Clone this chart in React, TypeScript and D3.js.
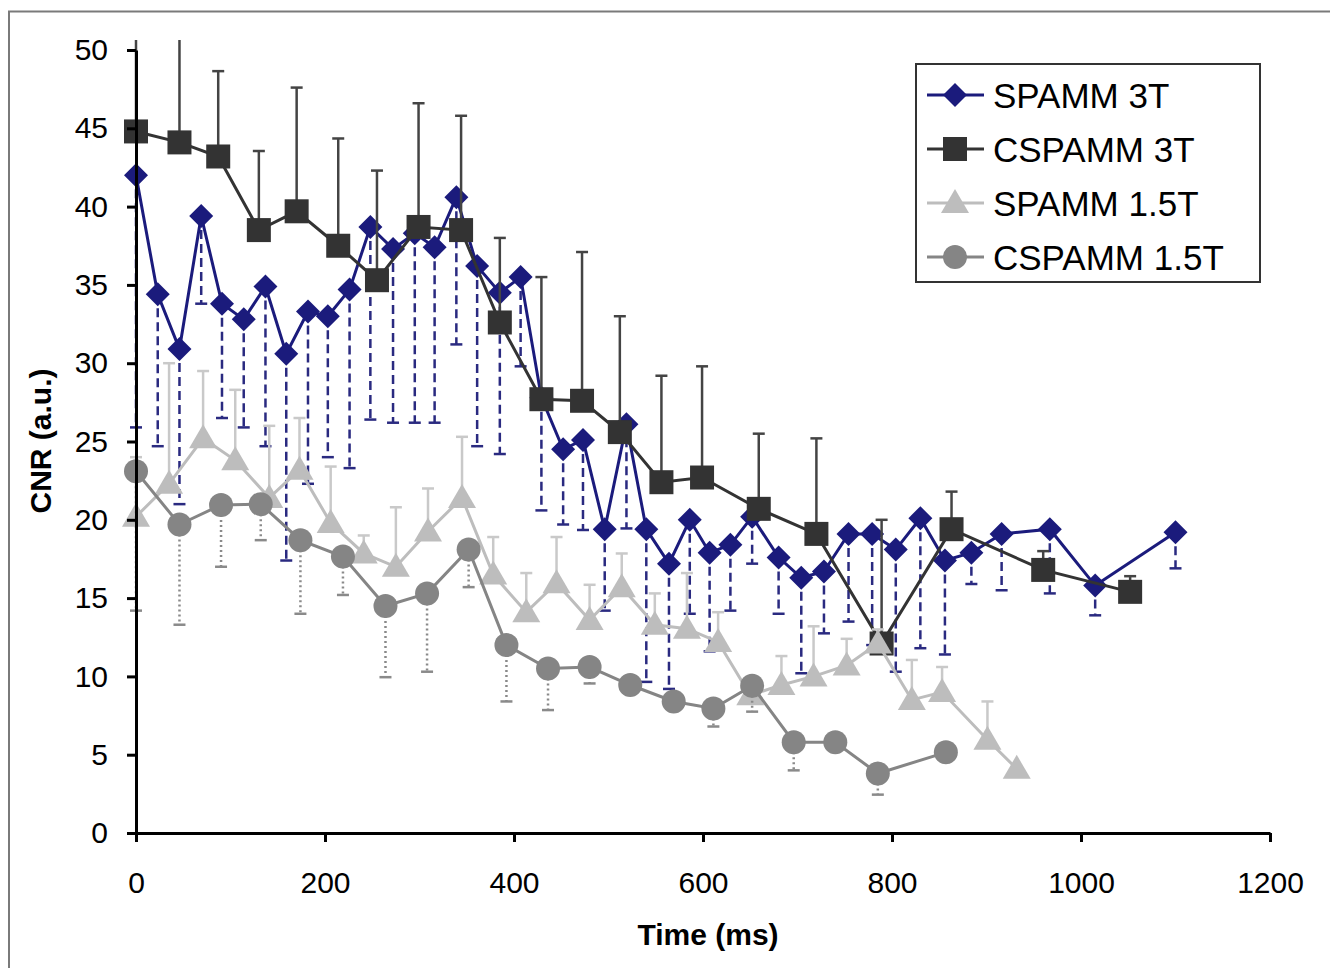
import React, { useRef, useEffect } from "react";
import * as d3 from "d3";

// SPAMM 3T (navy diamonds, dashed error bars downward)
const spamm3Time = [0, 23, 46, 69, 91, 114, 137, 159, 182, 203, 226, 248, 272, 295, 316, 339, 361, 385, 407, 429, 452, 473, 496, 519, 540, 564, 586, 607, 629, 652, 680, 704, 728, 754, 779, 804, 830, 856, 884, 916, 967, 1015, 1100];
const spamm3Cnr = [42.0, 34.4, 30.9, 39.4, 33.8, 32.8, 34.9, 30.6, 33.3, 33.0, 34.7, 38.7, 37.3, 38.3, 37.4, 40.6, 36.2, 34.5, 35.5, 27.8, 24.5, 25.1, 19.4, 26.1, 19.4, 17.2, 20.0, 17.9, 18.4, 20.2, 17.6, 16.3, 16.7, 19.1, 19.1, 18.1, 20.1, 17.4, 17.9, 19.1, 19.4, 15.8, 19.2];
const spamm3Low = [25.9, 24.7, 21.0, 33.8, 26.5, 25.9, 24.7, 17.4, 22.3, 24.0, 23.3, 26.4, 26.2, 26.2, 26.2, 31.2, 24.7, 24.2, 29.8, 20.6, 19.7, 19.35, 14.2, 19.45, 9.65, 9.2, 14.0, 11.6, 14.2, 17.2, 14.0, 10.2, 12.75, 13.5, 12.0, 10.3, 11.8, 11.4, 15.9, 15.5, 15.3, 13.9, 16.9];

// CSPAMM 3T (dark squares, error bars upward)
const cspamm3Time = [0, 46, 87, 130, 170, 214, 255, 299, 344, 385, 429, 472, 512, 556, 599, 659, 720, 789, 863, 960, 1052];
const cspamm3Cnr = [44.8, 44.1, 43.2, 38.5, 39.7, 37.5, 35.3, 38.7, 38.5, 32.6, 27.7, 27.6, 25.6, 22.4, 22.7, 20.7, 19.1, 12.1, 19.4, 16.8, 15.4];
const cspamm3High = [51.5, 51.5, 48.65, 43.55, 47.6, 44.35, 42.3, 46.6, 45.8, 38.0, 35.5, 37.1, 33.0, 29.2, 29.8, 25.5, 25.2, 20.0, 21.8, 18.0, 16.4];

// SPAMM 1.5T (light triangles, error bars upward)
const spamm15Time = [0, 35, 71, 105, 141, 173, 206, 241, 275, 309, 345, 378, 413, 445, 480, 514, 549, 583, 616, 650, 683, 717, 752, 785, 821, 853, 901, 932];
const spamm15Cnr = [20.2, 22.3, 25.2, 23.8, 21.4, 23.2, 19.8, 17.85, 17.0, 19.25, 21.4, 16.5, 14.1, 15.95, 13.6, 15.7, 13.3, 13.05, 12.2, 8.8, 9.45, 10.0, 10.7, 12.1, 8.5, 9.0, 5.95, 4.1];
const spamm15High = [24.0, 30.0, 29.5, 28.3, 26.0, 26.5, 23.4, 19.0, 20.8, 22.0, 25.3, 18.9, 16.6, 18.9, 15.85, 17.85, 15.3, 16.6, 14.1, 9.5, 11.3, 13.2, 12.4, 13.0, 11.05, 10.6, 8.4, 4.1];

// CSPAMM 1.5T (grey circles, dotted error bars downward)
const cspamm15Time = [0, 46, 90, 132, 174, 219, 264, 308, 352, 392, 436, 480, 523, 569, 611, 652, 696, 740, 785, 857];
const cspamm15Cnr = [23.1, 19.7, 20.95, 21.0, 18.7, 17.65, 14.5, 15.3, 18.1, 12.0, 10.5, 10.6, 9.45, 8.4, 7.95, 9.4, 5.8, 5.8, 3.8, 5.15];
const cspamm15Low = [14.2, 13.3, 17.0, 18.7, 14.0, 15.2, 9.95, 10.3, 15.7, 8.4, 7.85, 9.55, 9.45, 8.4, 6.8, 7.75, 4.0, 5.8, 2.45, 5.15];

const xTicks = [0, 200, 400, 600, 800, 1000, 1200];
const yTicks = [0, 5, 10, 15, 20, 25, 30, 35, 40, 45, 50];

const seriesNames = ["SPAMM 3T", "CSPAMM 3T", "SPAMM 1.5T", "CSPAMM 1.5T"];

const FONT = "'Liberation Sans', Arial, sans-serif";

const App = () => {
  const svgRef = useRef(null);

  useEffect(() => {
    const svg = d3.select(svgRef.current);
    svg.selectAll("*").remove();

    const x = d3.scaleLinear().domain([0, 1200]).range([136, 1270]);
    const y = d3.scaleLinear().domain([0, 50]).range([833, 50]);

    // frame
    svg.append("path")
      .attr("d", "M9,968 L9,11.5 L1330,11.5")
      .attr("fill", "none")
      .attr("stroke", "#7a7a7a")
      .attr("stroke-width", 2);

    svg.append("defs").append("clipPath").attr("id", "plotclip")
      .append("rect").attr("x", 100).attr("y", 40).attr("width", 1230).attr("height", 900);

    const series = [
      { name: seriesNames[0], t: spamm3Time, v: spamm3Cnr, e: spamm3Low, color: "#1b1b7c", errColor: "#2a2a80", dash: "9,5", marker: "diamond" },
      { name: seriesNames[1], t: cspamm3Time, v: cspamm3Cnr, e: cspamm3High, color: "#333333", errColor: "#444444", dash: null, marker: "square" },
      { name: seriesNames[2], t: spamm15Time, v: spamm15Cnr, e: spamm15High, color: "#bdbdbd", errColor: "#c9c9c9", dash: null, marker: "triangle" },
      { name: seriesNames[3], t: cspamm15Time, v: cspamm15Cnr, e: cspamm15Low, color: "#858585", errColor: "#8a8a8a", dash: "2,3", marker: "circle" },
    ];

    const drawMarker = (g, type, cx, cy, color) => {
      if (type === "diamond") {
        g.append("path").attr("d", `M${cx},${cy - 12} L${cx + 12},${cy} L${cx},${cy + 12} L${cx - 12},${cy} Z`).attr("fill", color);
      } else if (type === "square") {
        g.append("rect").attr("x", cx - 12).attr("y", cy - 12).attr("width", 24).attr("height", 24).attr("fill", color);
      } else if (type === "triangle") {
        g.append("path").attr("d", `M${cx},${cy - 14} L${cx + 14},${cy + 10} L${cx - 14},${cy + 10} Z`).attr("fill", color);
      } else {
        g.append("circle").attr("cx", cx).attr("cy", cy).attr("r", 12).attr("fill", color);
      }
    };

    const plot = svg.append("g").attr("clip-path", "url(#plotclip)");

    series.forEach(s => {
      const g = plot.append("g");
      // error bars
      s.t.forEach((t, i) => {
        if (Math.abs(s.e[i] - s.v[i]) < 0.05) return;
        const px = x(t);
        g.append("line")
          .attr("x1", px).attr("x2", px)
          .attr("y1", y(s.v[i])).attr("y2", y(s.e[i]))
          .attr("stroke", s.errColor).attr("stroke-width", 2.5)
          .attr("stroke-dasharray", s.dash);
        g.append("line")
          .attr("x1", px - 6).attr("x2", px + 6)
          .attr("y1", y(s.e[i])).attr("y2", y(s.e[i]))
          .attr("stroke", s.errColor).attr("stroke-width", 2.5);
      });
      const line = d3.line().x(d => x(d[0])).y(d => y(d[1]));
      g.append("path")
        .datum(s.t.map((t, i) => [t, s.v[i]]))
        .attr("d", line)
        .attr("fill", "none")
        .attr("stroke", s.color)
        .attr("stroke-width", 3);
      s.t.forEach((t, i) => drawMarker(g, s.marker, x(t), y(s.v[i]), s.color));
    });

    // axes
    const yAxis = svg.append("g")
      .attr("transform", "translate(136,0)")
      .call(d3.axisLeft(y).tickValues(yTicks).tickSize(9).tickSizeOuter(0).tickPadding(19).tickFormat(d3.format("d")));
    const xAxis = svg.append("g")
      .attr("transform", "translate(0,833)")
      .call(d3.axisBottom(x).tickValues(xTicks).tickSize(9).tickSizeOuter(0).tickPadding(30).tickFormat(d3.format("d")));
    [yAxis, xAxis].forEach(a => {
      a.attr("font-family", FONT).attr("font-size", 30);
      a.select(".domain").attr("stroke", "#000").attr("stroke-width", 3);
      a.selectAll(".tick line").attr("stroke", "#000").attr("stroke-width", 3);
      a.selectAll(".tick text").attr("fill", "#000");
    });

    svg.append("text")
      .attr("transform", "translate(51,441) rotate(-90)")
      .attr("text-anchor", "middle")
      .attr("font-family", FONT)
      .attr("font-size", 30)
      .attr("font-weight", "bold")
      .text("CNR (a.u.)");

    svg.append("text")
      .attr("x", 708)
      .attr("y", 945)
      .attr("text-anchor", "middle")
      .attr("font-family", FONT)
      .attr("font-size", 30)
      .attr("font-weight", "bold")
      .text("Time (ms)");

    // legend
    const legend = svg.append("g");
    legend.append("rect")
      .attr("x", 916).attr("y", 64).attr("width", 344).attr("height", 218)
      .attr("fill", "#fff").attr("stroke", "#333").attr("stroke-width", 2);
    const rowY = [95, 149, 203, 257];
    series.forEach((s, i) => {
      legend.append("line")
        .attr("x1", 927).attr("x2", 984)
        .attr("y1", rowY[i]).attr("y2", rowY[i])
        .attr("stroke", s.color).attr("stroke-width", 3);
      drawMarker(legend, s.marker, 955, rowY[i], s.color);
      legend.append("text")
        .attr("x", 993)
        .attr("y", rowY[i] + 12.5)
        .attr("font-family", FONT)
        .attr("font-size", 35)
        .text(s.name);
    });
  }, []);

  return (
    <svg
      ref={svgRef}
      width={1330}
      height={968}
      style={{ position: "absolute", left: 0, top: 0, background: "#fff" }}
    ></svg>
  );
};

export default App;
